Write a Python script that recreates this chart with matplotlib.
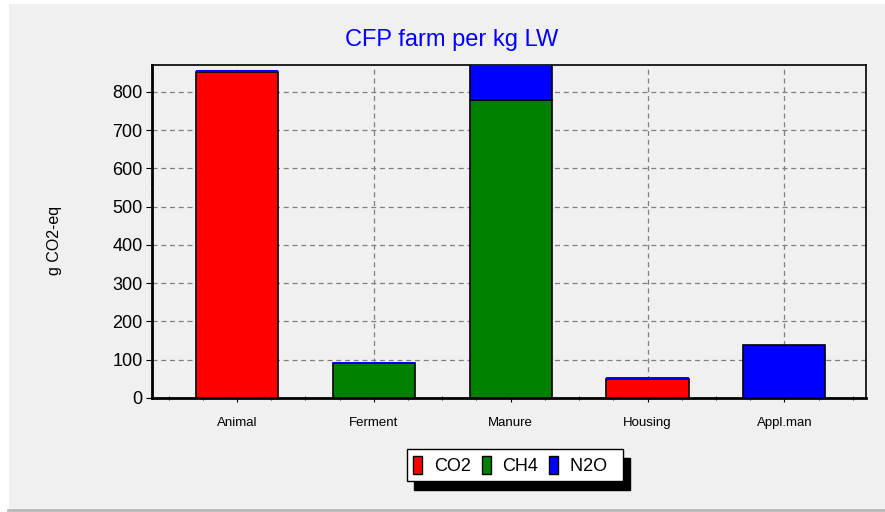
import matplotlib
matplotlib.use("Agg")
import matplotlib.pyplot as plt
import numpy as np
from matplotlib.ticker import MultipleLocator, FixedLocator
from matplotlib.patches import Rectangle, Patch
from matplotlib.lines import Line2D

plt.rcParams["font.family"] = ["Liberation Sans", "DejaVu Sans"]

categories = ["Animal", "Ferment", "Manure", "Housing", "Appl.man"]
series_names = ["CO2", "CH4", "N2O"]
co2 = [852, 0, 0, 50, 0]
ch4 = [0, 92, 778, 0, 0]
n2o = [4, 2, 95, 5, 139]
colors = ["#ff0000", "#008000", "#0000ff"]

BG = "#f0f0f0"

fig = plt.figure(figsize=(8.85, 5.12), dpi=100, facecolor="white")
# grey panel with white margin at left/top, like the original window
fig.patches.append(Rectangle((9 / 885, 3 / 512), 1, 1 - 7 / 512, transform=fig.transFigure,
                             facecolor=BG, edgecolor="none", zorder=-10))
fig.lines.append(Line2D([8 / 885, 1], [2.5 / 512, 2.5 / 512], transform=fig.transFigure,
                        color="#b8b8b8", linewidth=2.0))

ax = fig.add_axes([0.172, 0.223, 0.807, 0.650])
ax.set_facecolor(BG)

x = np.arange(len(categories))
bottom = np.zeros(len(categories))
for name, vals, col in zip(series_names, [co2, ch4, n2o], colors):
    vals = np.array(vals, dtype=float)
    # very thin layers are drawn without an outline so their colour shows
    lw = [1.2 if v >= 10 else 0 for v in vals]
    ax.bar(x, vals, width=0.6, bottom=bottom, color=col, edgecolor="black",
           linewidth=lw, zorder=3)
    bottom += vals

ax.set_xlim(-0.62, 4.6)
ax.set_ylim(0, 870)
ax.yaxis.set_major_locator(MultipleLocator(100))
ax.yaxis.set_minor_locator(MultipleLocator(20))
ax.set_xticks(x)
ax.set_xticklabels(categories, fontsize=9.5)
ax.xaxis.set_minor_locator(FixedLocator(np.arange(-0.5, 4.6, 0.25)))
ax.tick_params(axis="y", which="major", labelsize=13, length=4, direction="out", pad=3)
ax.tick_params(axis="y", which="minor", length=2, direction="inout")
ax.tick_params(axis="x", which="major", length=6, direction="inout", pad=11)
ax.tick_params(axis="x", which="minor", length=3, direction="inout")

ax.grid(True, which="major", color="#808080", linestyle=(0, (4, 3)), linewidth=0.9, zorder=1)

for side in ["left", "bottom"]:
    ax.spines[side].set_linewidth(2.0)
for side in ["top", "right"]:
    ax.spines[side].set_linewidth(1.2)

fig.text(452 / 885, 1 - 40 / 512, "CFP farm per kg LW", color="#0000ff", fontsize=17,
         ha="center", va="center")
fig.text(55 / 885, 1 - 240 / 512, "g CO2-eq", fontsize=11.5, rotation=90,
         ha="center", va="center")

handles = [Patch(facecolor=c, edgecolor="black", linewidth=1.0, label=n)
           for n, c in zip(series_names, colors)]
handles[-1].set_label("N2O  ")
leg = ax.legend(handles=handles, loc="upper center", bbox_to_anchor=(0.508, -0.155), ncol=3,
                fontsize=13, frameon=True, fancybox=False,
                shadow={"color": "black", "alpha": 1, "ox": 5, "oy": -6},
                handlelength=0.5, handleheight=1.2, handletextpad=0.65,
                columnspacing=0.6, borderpad=0.35, borderaxespad=0)
leg.get_frame().set_edgecolor("black")
leg.get_frame().set_linewidth(1.0)
leg.get_frame().set_facecolor("white")

fig.savefig("out.png", dpi=100)
